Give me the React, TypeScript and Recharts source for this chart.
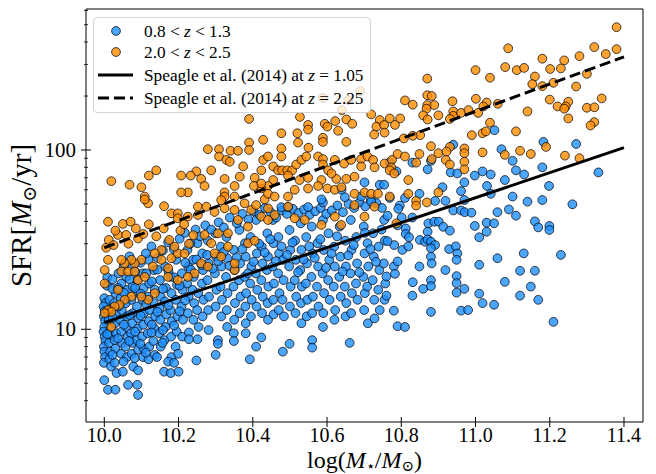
import React from 'react';
import { ComposedChart, Scatter, XAxis, YAxis, Legend, ReferenceArea } from 'recharts';

// ---------- axes ----------
const X_DOMAIN: [number, number] = [9.9507, 11.4512];
const Y_DOMAIN: [number, number] = [3.04, 611.5];
const xTicks = [10.0, 10.2, 10.4, 10.6, 10.8, 11.0, 11.2, 11.4];
const yMajorTicks = [10, 100];
const yMinorTicks = [4, 5, 6, 7, 8, 9, 20, 30, 40, 50, 60, 70, 80, 90, 200, 300, 400, 500, 600];

// ---------- Speagle et al. (2014) relations ----------
const speagleLow = [{ x: 10.0, y: 10.9 }, { x: 11.4, y: 103 }];
const speagleHigh = [{ x: 10.0, y: 28.5 }, { x: 11.4, y: 331 }];

// ---------- 0.8 < z < 1.3 sample: [log M*, SFR] ----------
const blueDense: [number, number][] = [
  [10.000,14.9],[10.003,14.0],[9.998,13.4],[10.001,12.6],[9.999,11.8],[10.002,11.1],[10.000,10.3],[9.998,9.7],[10.001,9.1],[10.003,8.6],[9.999,8.0],[10.000,7.5],[10.002,7.0],[9.999,6.5],[10.000,5.2],
  [10.014,14.6],[10.016,12.8],[10.012,11.3],[10.017,10.1],[10.015,9.3],[10.013,8.4],[10.016,7.5],[10.014,6.8],[10.018,6.2],[10.010,4.6],
  [10.030,15.9],[10.027,14.0],[10.031,12.1],[10.029,10.8],[10.032,9.5],[10.028,8.7],[10.030,7.8],[10.028,6.5],[10.033,5.7],[10.030,4.6],
  [10.046,18.0],[10.044,14.9],[10.047,12.8],[10.043,11.3],[10.046,9.7],[10.048,8.4],[10.045,7.3],[10.050,5.8],
  [10.059,19.6],[10.062,16.6],[10.058,14.0],[10.061,11.8],[10.060,10.3],[10.063,9.1],[10.057,8.0],[10.061,7.0],[10.064,4.9],
  [10.074,22.4],[10.076,17.3],[10.073,14.6],[10.077,12.3],[10.075,10.8],[10.072,9.5],[10.076,8.4],[10.074,7.3],[10.078,6.2],
  [10.089,18.8],[10.091,15.9],[10.088,13.4],[10.092,11.5],[10.090,10.1],[10.087,8.7],[10.091,7.7],[10.091,5.9],[10.089,4.9],[10.091,4.3],
  [10.104,20.5],[10.106,17.0],[10.103,14.6],[10.107,12.3],[10.105,10.6],[10.102,9.1],[10.106,7.8],[10.104,7.0],
  [10.119,24.4],[10.121,18.0],[10.118,15.2],[10.122,12.8],[10.120,11.1],[10.117,9.5],[10.121,8.0],[10.119,6.8],
  [10.134,21.4],[10.136,16.6],[10.133,14.0],[10.137,11.8],[10.135,10.1],[10.132,8.6],[10.136,7.2],
  [10.150,18.8],[10.152,15.2],[10.149,13.1],[10.151,11.3],[10.148,9.5],[10.152,8.0],
  [10.164,22.4],[10.166,17.0],[10.163,14.3],[10.167,12.1],[10.165,10.3],[10.162,8.7],[10.161,5.8],
  [10.179,19.6],[10.181,15.9],[10.178,12.8],[10.182,11.1],[10.180,9.1],[10.181,7.0],[10.179,5.7],[10.172,6.6],
  [10.194,24.4],[10.196,17.7],[10.193,14.6],[10.197,11.8],[10.195,9.7],[10.192,8.0],[10.200,5.8],[10.188,6.5],
  [10.209,20.5],[10.211,16.6],[10.208,13.4],[10.212,11.3],[10.210,9.1],[10.199,7.3],
  [10.224,27.7],[10.226,22.4],[10.223,18.0],[10.227,15.2],[10.225,12.3],[10.228,9.6],[10.228,8.8],
  [10.239,24.4],[10.241,19.6],[10.238,16.6],[10.242,14.0],[10.240,11.3],
  [10.251,30.2],[10.253,15.9],[10.250,12.8],[10.254,10.3],[10.251,8.8],[10.248,6.7],
  [10.264,26.5],[10.266,21.4],[10.263,18.0],[10.267,14.6],[10.265,11.8],
  [10.279,31.2],[10.281,23.3],[10.278,18.8],[10.282,15.2],[10.280,12.8],[10.281,9.9],
  [10.299,34.3],[10.301,25.4],[10.298,20.5],[10.302,16.6],[10.300,13.4],[10.306,8.7],[10.306,8.3],[10.300,7.2],
  [10.314,28.9],[10.316,22.4],[10.313,17.3],[10.317,14.6],[10.315,11.8],
  [10.329,32.7],[10.331,24.9],[10.328,19.6],[10.332,15.9],[10.330,12.8],[10.331,10.3],
  [10.349,27.7],[10.351,21.4],[10.348,17.3],[10.352,14.0],[10.350,11.3],[10.349,9.5],[10.349,8.6],
  [10.364,35.8],[10.366,23.3],[10.363,18.8],[10.367,15.2],[10.365,12.3],
  [10.379,30.2],[10.381,25.4],[10.378,19.6],[10.382,15.9],[10.380,13.4],[10.381,10.8],[10.381,9.5],
  [10.394,32.7],[10.396,22.4],[10.393,18.0],[10.397,14.6],[10.395,11.8],[10.392,6.8],
  [10.409,40.7],[10.411,26.5],[10.408,20.5],[10.412,16.6],[10.410,13.4],[10.409,8.0],
  [10.424,28.9],[10.426,23.3],[10.423,18.8],[10.427,15.2],[10.425,12.3],[10.423,9.0],
  [10.439,34.3],[10.441,25.4],[10.438,21.4],[10.442,17.3],[10.440,14.0],[10.441,11.3],
  [10.454,40.7],[10.456,30.2],[10.453,22.4],[10.457,18.0],[10.455,14.6],[10.456,12.1],
  [10.469,32.7],[10.471,26.5],[10.468,20.5],[10.472,15.9],[10.470,12.8],
  [10.481,24.4],[10.483,18.8],[10.480,14.6],[10.484,11.8],[10.481,7.5],
  [10.499,35.8],[10.501,27.7],[10.498,22.4],[10.502,17.3],[10.500,13.4],[10.499,8.3],
  [10.514,31.2],[10.516,24.4],[10.513,18.8],[10.517,15.2],[10.515,12.3],
  [10.529,39.0],[10.531,27.7],[10.528,21.4],[10.532,17.3],[10.530,14.0],[10.531,10.8],
  [10.544,32.7],[10.546,23.3],[10.543,18.0],[10.547,14.6],[10.545,11.8],
  [10.559,37.4],[10.561,26.5],[10.558,19.6],[10.562,15.2],[10.560,12.3],[10.560,8.7],[10.560,7.9],
  [10.574,30.2],[10.576,22.4],[10.573,17.3],[10.577,13.4],
  [10.589,40.7],[10.591,27.7],[10.588,20.5],[10.592,15.9],[10.590,12.3],[10.589,10.3],
  [10.604,34.3],[10.606,24.4],[10.603,18.8],[10.607,14.6],
  [10.619,28.9],[10.621,22.4],[10.618,17.3],[10.622,12.8],[10.620,11.3],
  [10.634,37.4],[10.636,25.4],[10.633,19.6],[10.637,15.2],
  [10.649,31.2],[10.651,22.4],[10.648,17.3],[10.652,14.0],[10.650,11.8],
  [10.664,40.7],[10.666,27.7],[10.663,20.5],[10.667,15.9],[10.665,12.3],[10.661,8.4],
  [10.679,32.7],[10.681,23.3],[10.678,18.0],[10.682,14.6],
  [10.699,37.4],[10.701,26.5],[10.698,19.6],[10.702,15.9],[10.700,12.8],
  [10.709,30.2],[10.711,22.4],[10.708,17.3],[10.710,10.8],
  [10.724,34.3],[10.726,25.4],[10.723,18.8],[10.727,14.6],[10.728,11.5],
  [10.739,28.9],[10.741,21.4],[10.738,16.6],[10.742,12.8],
  [10.754,40.7],[10.756,31.2],[10.753,23.3],[10.757,18.0],[10.755,14.6],
];

const blueFill: [number, number][] = [
  [10.007,17.5],[10.022,16.8],[10.008,19.5],[10.038,20.5],[10.052,22.5],[10.068,25.5],[10.083,21.0],[10.098,23.5],[10.112,26.5],[10.127,29.0],
  [10.143,25.0],[10.158,27.5],[10.172,30.5],[10.187,28.0],[10.203,32.0],[10.217,34.5],[10.232,30.0],[10.246,36.0],[10.258,33.0],[10.272,38.0],
  [10.288,36.0],[10.308,39.5],[10.322,37.0],[10.338,42.0],[10.357,39.0],[10.372,44.0],[10.388,41.0],[10.402,45.5],[10.418,43.5],[10.433,47.5],
  [10.448,45.0],[10.463,42.0],[10.478,46.0],[10.492,44.0],[10.508,47.0],[10.523,44.5],[10.538,46.5],[10.553,43.5],[10.568,45.5],[10.583,47.5],
  [10.598,44.0],[10.613,46.0],[10.628,49.0],[10.643,45.0],[10.658,50.0],[10.673,47.5],[10.688,51.0],[10.703,48.5],[10.718,53.0],[10.733,50.5],[10.748,47.5],
  [10.008,9.4],[10.023,11.6],[10.038,13.4],[10.053,10.6],[10.068,12.0],[10.083,9.7],[10.098,11.9],[10.113,13.8],[10.128,10.6],[10.143,12.5],
  [10.158,9.9],[10.173,13.6],[10.188,10.5],[10.203,12.6],[10.218,14.5],[10.022,7.2],[10.037,8.9],[10.052,6.6],[10.067,8.6],[10.082,6.9],
  [10.097,8.3],[10.112,7.4],[10.127,9.6],[10.142,7.0],[10.157,8.4],[10.022,19.0],[10.037,17.0],[10.053,16.0],[10.068,19.0],[10.083,17.0],
  [10.098,15.8],[10.113,20.5],[10.128,18.5],[10.143,21.5],[10.158,16.8],[10.173,21.0],[10.188,19.5],[10.203,17.5],[10.218,23.5],[10.233,21.5],
  [10.248,24.5],[10.262,22.8],[10.277,26.0],[10.292,21.8],[10.307,24.0],[10.322,27.0],[10.337,22.6],[10.357,25.2],[10.372,28.0],[10.387,20.5],
  [10.402,23.8],[10.417,30.0],[10.432,26.8],[10.447,31.8],[10.462,24.0],[10.477,29.0],[10.492,26.0],[10.507,30.5],[10.522,20.8],[10.537,24.5],
  [10.552,29.0],[10.567,25.0],[10.582,31.8],[10.597,22.0],[10.612,26.5],[10.627,33.0],[10.642,21.0],[10.657,25.8],[10.672,29.5],[10.687,20.8],
  [10.702,34.5],[10.717,28.0],[10.732,23.8],[10.747,36.0],
];

const blueUpper: [number, number][] = [
  [10.742,64],[10.754,64],[10.701,66],[10.692,55],[10.639,60],[10.648,54.5],[10.787,76],[10.719,51.5],[10.589,51],[10.585,53],
  [10.549,48],[10.495,48],[10.477,48],
  [11.051,129],[11.183,111],[11.271,108],[10.940,107],[11.070,101],
];

const blueRight: [number, number][] = [
  [10.769,85.4],[10.830,85],[10.871,78],[10.880,87],[10.933,75],[10.951,74],[10.970,66],[10.998,72],[11.019,76],[11.041,73],
  [11.100,87],[11.109,77],[11.131,73],[11.180,80],[11.079,68],[11.031,63],[11.041,57],[10.961,59],[10.911,62],[10.891,52],
  [10.919,52],[10.849,57],[10.810,54],[10.796,49],[10.769,54],[10.792,47],[10.763,43],[10.801,42],[10.830,42],[10.790,38],
  [10.812,36.5],[10.812,34],[10.821,32.6],[10.781,29.5],[10.803,27.7],[10.819,29],[10.763,31],[10.850,31.5],[10.864,30.8],[10.871,35],
  [10.871,31.7],[10.880,30.8],[10.891,29.5],[10.880,28.3],[10.880,25.4],[10.882,23.3],[10.873,39],[10.889,39.8],[10.901,39.8],[10.913,37.3],
  [10.931,35.5],[10.940,46],[10.961,46],[10.970,52.6],[10.971,45],[10.989,44.7],[10.998,37.7],[11.010,32.6],[11.030,35],[11.030,39.3],
  [11.050,39],[11.059,45],[11.090,46.6],[11.109,43],[11.100,55],[11.140,51.5],[11.180,52.6],[11.198,63],[11.261,49.8],[11.331,75],
  [11.160,40],[11.169,37],[11.199,37.7],[11.199,35.8],[10.929,28],[10.947,29],[10.951,26.5],[10.949,24.4],[11.010,22.9],[11.059,24.9],
  [11.130,26.5],[11.230,26],[11.120,21.2],[11.160,21.2],[10.919,21.4],[10.849,22.4],[10.780,22.4],[10.790,23.9],[10.783,20.4],[10.760,19.7],
  [10.760,15.4],[10.831,18.3],[10.830,15.4],[10.859,16.8],[10.880,18.8],[10.880,17.4],[10.949,19.8],[10.949,18.1],[10.970,16.8],[10.949,16],
  [11.010,15.8],[11.019,14],[11.050,13.7],[11.079,18.4],[11.149,17.3],[11.120,15.4],[11.169,14.6],[10.780,12.7],[10.880,12.5],[10.961,12.7],
  [10.980,12.8],[10.790,10.4],[10.810,10.3],[11.210,11],
];

// ---------- 2.0 < z < 2.5 sample: [log M*, SFR] ----------
const orangeTop: [number, number][] = [
  [11.380,484],[11.380,365],[11.351,343],[11.320,375],[11.280,334],[11.239,316],[11.230,285],[11.201,283],[11.180,323],[11.088,369],
  [11.080,290],[11.111,279],[11.131,287],[11.000,279],[11.039,253],[10.870,250],[11.160,257],[11.153,233],[11.180,227],[11.210,237],
  [11.271,226],[11.300,266],[10.810,189],[10.831,179],[10.870,202],[10.882,200],[10.870,178],[10.889,178],[10.868,170],[10.859,156],
  [10.871,148],[10.900,156],[10.938,187],[10.940,164],[10.940,155],[10.931,149],[10.961,161],[10.981,167],[11.001,193],[11.007,161],
  [11.030,184],[11.021,175],[11.039,142],[11.060,181],[11.140,164],[11.200,191],[11.221,175],[11.250,186],[11.243,175],[11.239,170],
  [11.250,150],[11.300,172],[11.320,173],[11.340,194],[11.320,143],[11.310,137],[11.109,127],[10.990,121],[11.019,124],[11.028,127],
  [11.190,104],[10.970,102],[10.931,104],[10.880,105],[10.851,121],[10.831,120],[10.797,150],[10.807,116],
];

const orangeMid: [number, number][] = [
  [10.390,149],[10.527,153],[10.549,138],[10.549,130],[10.594,140],[10.622,145],[10.601,135],[10.652,148],[10.668,140],[10.719,158],
  [10.742,147],[10.769,150],[10.733,135],[10.754,138],[10.755,125],[10.727,122],[10.783,138],[10.477,124],[10.520,124],[10.589,117],
  [10.589,111],[10.630,128],[10.652,111],[10.550,103],[10.477,102],[10.522,110],[10.428,114],[10.390,110],[10.390,100],[10.279,101],
  [10.309,101],[10.340,99],[10.360,99],[10.309,92],[10.329,88],[10.338,86],[10.374,81],[10.428,88],[10.441,92],[10.477,92],
  [10.455,81],[10.423,77],[10.405,70],[10.468,77],[10.479,77],[10.493,77],[10.506,77],[10.517,83],[10.531,88],[10.544,92],
  [10.576,92],[10.589,89],[10.589,83],[10.603,77],[10.621,88],[10.646,84],[10.665,88],[10.692,89],[10.709,92],[10.724,88],
  [10.728,80],[10.755,84],[10.775,88],[10.773,80],[10.692,81],[10.674,71],[10.652,69],[10.625,69],[10.612,74],[10.585,68],
  [10.549,70],[10.526,68],[10.495,72],[10.455,68],[10.441,63],[10.423,61],[10.403,63],[10.365,71],[10.351,63],[10.324,69],
  [10.324,58],[10.324,55],[10.351,55],[10.432,53],[10.441,57],[10.459,55],[10.495,55],[10.513,60],[10.549,61],[10.576,63],
  [10.601,61],[10.621,60],[10.639,62],[10.674,57],[10.701,58],[10.719,57],[10.737,57],[10.261,69],[10.270,63],[10.248,76],
  [10.207,72],[10.233,72],[10.225,58],[10.207,58],[10.140,77],[10.120,72],[10.100,62],[10.068,64],[10.109,55],[10.109,53],
  [10.019,67],[10.288,77],[10.315,52.5],[10.423,65],
  [10.689,213],[10.657,190],[10.640,167],[10.589,195],
];

const orangeLow: [number, number][] = [
  [10.010,39.8],[10.050,38.7],[10.071,39.8],[10.037,33.6],[10.059,33.6],[10.091,32.1],[10.118,50.4],[10.161,48.6],[10.181,44.3],[10.198,44.3],
  [10.198,41.6],[10.225,42.5],[10.252,43.4],[10.252,48.3],[10.275,48.3],[10.297,45.1],[10.324,47.3],[10.351,46.3],[10.378,50.4],[10.396,46.3],
  [10.409,49.3],[10.423,42.5],[10.441,40.7],[10.459,43.4],[10.441,47.3],[10.495,48.3],[10.513,41.6],[10.540,40.7],[10.585,38.2],[10.621,42.5],
  [10.638,38.2],[10.674,49.3],[10.701,42.5],[10.728,48.3],[10.360,40.7],[10.387,37.4],[10.333,34.3],[10.270,33.6],[10.306,34.3],[10.288,30.2],
  [10.297,26.5],[10.315,25.4],[10.351,21.4],[10.351,23.3],[10.261,23.3],[10.279,22.4],[10.243,20.5],[10.225,19.6],[10.198,18.8],[10.172,19.6],
  [10.172,21.9],[10.154,24.4],[10.181,24.9],[10.198,26.5],[10.216,26.5],[10.189,28.9],[10.154,27.7],[10.136,26.5],[10.131,22.4],[10.100,24.4],
  [10.082,23.3],[10.073,24.4],[10.055,23.3],[10.046,24.4],[10.010,24.4],[10.001,21.4],[10.001,18.0],[10.046,21.0],[10.064,21.0],[10.082,21.0],
  [10.091,18.8],[10.109,19.6],[10.136,15.9],[10.118,14.6],[10.100,15.2],[10.073,15.2],[10.055,14.6],[10.037,16.6],[10.041,13.7],[10.028,13.4],
  [10.010,12.8],[10.019,12.5],[10.001,12.3],[10.019,10.3],[10.333,28.9],[10.387,30.2],[10.405,31.2],
  [10.005,28.5],[10.012,31.5],[10.025,29.5],[10.030,35.5],[10.065,30.0],[10.085,36.5],[10.105,34.0],[10.120,38.5],[10.140,33.0],[10.160,36.5],
  [10.175,31.5],[10.205,35.5],[10.215,38.5],[10.240,33.5],[10.228,30.0],
];

const orangeRight: [number, number][] = [
  [10.790,95],[10.810,92],[10.849,95],[10.900,96],[10.922,98],[10.970,96],[10.970,86],[10.970,78],[11.019,97],[11.079,94],
  [11.120,99],[11.149,95],[11.241,93],[11.280,90],[10.769,77],[10.781,74],[10.819,68],[10.840,85],[10.882,89],[10.920,88],
  [10.931,83],[10.769,55],[10.819,57],[10.840,52],[10.840,49],[10.869,51],[10.900,58],[10.787,39],
];

const toPoints = (arr: [number, number][]) => arr.map(([x, y]) => ({ x, y }));
const blueData = toPoints([...blueDense, ...blueFill, ...blueUpper, ...blueRight]);
const orangeData = toPoints([...orangeLow, ...orangeMid, ...orangeTop, ...orangeRight]);

const SERIF = '"Liberation Serif", "DejaVu Serif", serif';
const BLUE = '#1E90FF';
const ORANGE = '#FF8C00';

const makeDot = (fill: string) => (props: any) => {
  const { cx, cy } = props;
  if (cx == null || cy == null) return <g />;
  return (
    <circle cx={cx} cy={cy} r={4.4} fill={fill} fillOpacity={0.8} stroke="#000" strokeOpacity={0.8} strokeWidth={0.9} />
  );
};
const noDot = () => <g />;

const XTick = (props: any) => {
  const { x, y, payload } = props;
  return (
    <g>
      <line x1={x} x2={x} y1={y - 5} y2={y + 5} stroke="#000" strokeWidth={1} />
      <text x={x} y={y + 20} textAnchor="middle" fontFamily={SERIF} fontSize={20} fill="#000">
        {Number(payload.value).toFixed(1)}
      </text>
    </g>
  );
};

const YTick = (props: any) => {
  const { x, y, payload } = props;
  const major = yMajorTicks.includes(payload.value);
  if (!major) {
    return <line x1={x - 2} x2={x + 2} y1={y} y2={y} stroke="#000" strokeWidth={0.8} />;
  }
  return (
    <g>
      <line x1={x - 5} x2={x + 5} y1={y} y2={y} stroke="#000" strokeWidth={1} />
      <text x={x - 10} y={y + 7} textAnchor="end" fontFamily={SERIF} fontSize={21} fill="#000">
        {payload.value}
      </text>
    </g>
  );
};

const XTitle = (props: any) => {
  const vb = props.viewBox || { x: 86, y: 422, width: 557, height: 52 };
  return (
    <text x={vb.x + vb.width / 2} y={vb.y + 46} textAnchor="middle" fontFamily={SERIF} fontSize={24} fill="#000">
      log(<tspan fontStyle="italic">M</tspan>
      <tspan fontSize={15} dy={2.5}>⋆</tspan>
      <tspan dy={-2.5}>/</tspan>
      <tspan fontStyle="italic">M</tspan>
      <tspan fontSize={15} dy={2.5}>⊙</tspan>
      <tspan dy={-2.5}>)</tspan>
    </text>
  );
};

const YTitle = (props: any) => {
  const vb = props.viewBox || { x: 0, y: 9, width: 86, height: 413 };
  const cx = vb.x + 31;
  const cy = vb.y + vb.height / 2;
  return (
    <text x={cx} y={cy} transform={`rotate(-90 ${cx} ${cy})`} textAnchor="middle" fontFamily={SERIF} fontSize={29} fill="#000">
      SFR[<tspan fontStyle="italic">M</tspan>
      <tspan fontSize={19} dy={5}>⊙</tspan>
      <tspan dy={-5}>/yr]</tspan>
    </text>
  );
};

const LegendBox = () => {
  const rows = [14, 35, 58, 81];
  const fs = 17.3;
  return (
    <div
      style={{
        width: 278,
        height: 96,
        boxSizing: 'border-box',
        border: '1px solid #d4d4d4',
        borderRadius: 4,
        background: 'rgba(255,255,255,0.8)',
        position: 'relative',
      }}
    >
      <svg width={278} height={96} style={{ position: 'absolute', left: -1, top: -1 }}>
        <circle cx={23} cy={rows[0]} r={4.4} fill={BLUE} fillOpacity={0.8} stroke="#000" strokeOpacity={0.8} strokeWidth={0.9} />
        <circle cx={23} cy={rows[1]} r={4.4} fill={ORANGE} fillOpacity={0.8} stroke="#000" strokeOpacity={0.8} strokeWidth={0.9} />
        <line x1={5} x2={40} y1={rows[2]} y2={rows[2]} stroke="#000" strokeWidth={3} />
        <line x1={5} x2={40} y1={rows[3]} y2={rows[3]} stroke="#000" strokeWidth={3} strokeDasharray="11 5" />
        <text x={51} y={rows[0] + 5.5} fontFamily={SERIF} fontSize={fs} fill="#000">
          0.8 &lt; <tspan fontStyle="italic">z</tspan> &lt; 1.3
        </text>
        <text x={51} y={rows[1] + 5.5} fontFamily={SERIF} fontSize={fs} fill="#000">
          2.0 &lt; <tspan fontStyle="italic">z</tspan> &lt; 2.5
        </text>
        <text x={51} y={rows[2] + 5.5} fontFamily={SERIF} fontSize={fs} fill="#000">
          Speagle et al. (2014) at <tspan fontStyle="italic">z</tspan> = 1.05
        </text>
        <text x={51} y={rows[3] + 5.5} fontFamily={SERIF} fontSize={fs} fill="#000">
          Speagle et al. (2014) at <tspan fontStyle="italic">z</tspan> = 2.25
        </text>
      </svg>
    </div>
  );
};

export default function App() {
  return (
    <div style={{ position: 'absolute', left: 0, top: 0, width: 656, height: 474, background: '#fff' }}>
      <ComposedChart width={656} height={474} margin={{ top: 9, right: 13, bottom: 0, left: 0 }}>
        <XAxis
          dataKey="x"
          type="number"
          domain={X_DOMAIN}
          allowDataOverflow
          ticks={xTicks}
          interval={0}
          tick={<XTick />}
          tickLine={false}
          axisLine={false}
          tickSize={0}
          tickMargin={0}
          height={52}
          label={{ content: (p: any) => <XTitle {...p} /> }}
        />
        <YAxis
          dataKey="y"
          type="number"
          scale="log"
          domain={Y_DOMAIN}
          allowDataOverflow
          ticks={[...yMinorTicks, ...yMajorTicks].sort((a, b) => a - b)}
          interval={0}
          tick={<YTick />}
          tickLine={false}
          axisLine={false}
          tickSize={0}
          tickMargin={0}
          width={86}
          label={{ content: (p: any) => <YTitle {...p} /> }}
        />
        <Scatter name="0.8 < z < 1.3" data={blueData} shape={makeDot(BLUE)} isAnimationActive={false} />
        <Scatter name="2.0 < z < 2.5" data={orangeData} shape={makeDot(ORANGE)} isAnimationActive={false} />
        <Scatter
          name="Speagle et al. (2014) at z = 1.05"
          data={speagleLow}
          line={{ stroke: '#000', strokeWidth: 3 }}
          lineType="joint"
          shape={noDot}
          isAnimationActive={false}
        />
        <Scatter
          name="Speagle et al. (2014) at z = 2.25"
          data={speagleHigh}
          line={{ stroke: '#000', strokeWidth: 3, strokeDasharray: '11 5' }}
          lineType="joint"
          shape={noDot}
          isAnimationActive={false}
        />
        <ReferenceArea
          x1={X_DOMAIN[0]}
          x2={X_DOMAIN[1]}
          y1={Y_DOMAIN[0]}
          y2={Y_DOMAIN[1]}
          fill="none"
          fillOpacity={0}
          stroke="#000"
          strokeWidth={1}
          ifOverflow="visible"
        />
        <Legend
          layout="vertical"
          align="center"
          verticalAlign="middle"
          content={<LegendBox />}
          wrapperStyle={{ left: 93, top: 17, width: 278, height: 96 }}
        />
      </ComposedChart>
    </div>
  );
}
